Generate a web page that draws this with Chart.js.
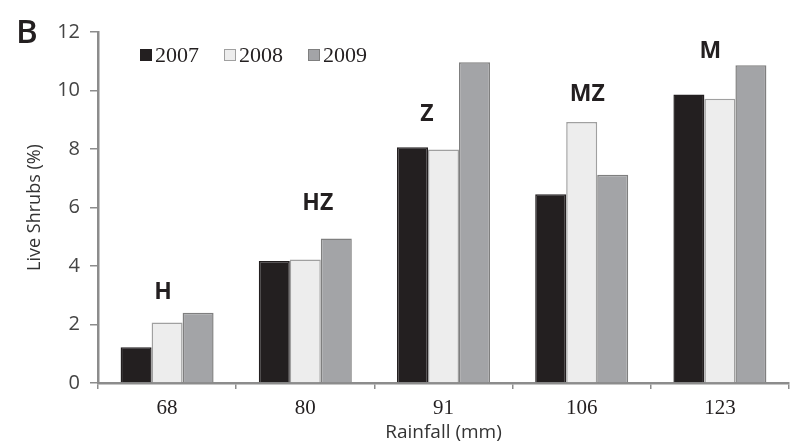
<!DOCTYPE html>
<html>
<head>
<meta charset="utf-8">
<script src="https://cdn.jsdelivr.net/npm/chart.js@4"></script>
<style>
  body { margin: 0; background: #fff; }
  #wrap { position: relative; width: 794px; height: 444px; }
  #panel { position: absolute; left: 16px; top: 8px; font: 600 33px "Open Sans", sans-serif; color: #231f20; }
</style>
</head>
<body>
<div id="wrap">
  <canvas id="chart" width="794" height="444"></canvas>
  <div id="panel">B</div>
</div>
<script>
const rainfall = ['68', '80', '91', '106', '123'];
const years = ['2007', '2008', '2009'];
const shrubs2007 = [1.22, 4.17, 8.06, 6.45, 9.86];
const shrubs2008 = [2.07, 4.22, 7.98, 8.92, 9.72];
const shrubs2009 = [2.40, 4.94, 10.97, 7.12, 10.86];
// group letters, placed in data units (category offset, % value)
const groupLabels = ['H', 'HZ', 'Z', 'MZ', 'M'];
const groupLabelShift = [-0.03, 0.09, -0.12, 0.04, -0.07];
const groupLabelY = [3.1, 6.15, 9.17, 9.85, 11.33];

const axisGray = '#8c8c8c';

const groupLabelPlugin = {
  id: 'groupLabels',
  afterDatasetsDraw(chart) {
    const ctx = chart.ctx;
    const x = chart.scales.x;
    const y = chart.scales.y;
    const step = x.getPixelForValue(1) - x.getPixelForValue(0);
    ctx.save();
    ctx.font = 'bold 23px "Open Sans", sans-serif';
    ctx.fillStyle = '#231f20';
    ctx.textAlign = 'center';
    ctx.textBaseline = 'middle';
    groupLabels.forEach((txt, i) => {
      ctx.fillText(txt, x.getPixelForValue(i) + groupLabelShift[i] * step, y.getPixelForValue(groupLabelY[i]));
    });
    ctx.restore();
  }
};

const legendPlugin = {
  id: 'insideLegend',
  afterDraw(chart) {
    const ctx = chart.ctx;
    const area = chart.chartArea;
    let lx = area.left + 42;
    const ly = area.top + 23;
    ctx.save();
    ctx.font = '22px "Liberation Serif", serif';
    ctx.textBaseline = 'middle';
    chart.data.datasets.forEach(ds => {
      ctx.fillStyle = ds.backgroundColor;
      ctx.fillRect(lx, ly - 6, 12, 12);
      ctx.strokeStyle = ds.borderColor;
      ctx.lineWidth = 1;
      ctx.strokeRect(lx + 0.5, ly - 5.5, 11, 11);
      ctx.fillStyle = '#231f20';
      ctx.fillText(ds.label, lx + 15, ly + 1);
      lx += 15 + ctx.measureText(ds.label).width + 25;
    });
    ctx.restore();
  }
};

new Chart(document.getElementById('chart'), {
  type: 'bar',
  data: {
    labels: rainfall,
    datasets: [
      { label: years[0], data: shrubs2007, backgroundColor: '#231f20', borderColor: '#231f20', borderWidth: 1.5 },
      { label: years[1], data: shrubs2008, backgroundColor: '#ededed', borderColor: '#a0a0a0', borderWidth: 1.5 },
      { label: years[2], data: shrubs2009, backgroundColor: '#a3a4a7', borderColor: '#7f7f7f', borderWidth: 1.5 }
    ]
  },
  options: {
    responsive: false,
    animation: false,
    devicePixelRatio: 1,
    layout: { padding: { top: 32, right: 5, left: 0, bottom: 0 } },
    datasets: {
      bar: { categoryPercentage: 0.673, barPercentage: 1.0 }
    },
    plugins: {
      legend: { display: false },
      tooltip: { enabled: false }
    },
    scales: {
      x: {
        offset: true,
        grid: {
          offset: true,
          drawOnChartArea: false,
          drawTicks: true,
          tickLength: 6,
          tickColor: axisGray,
          lineWidth: 1.5
        },
        border: { color: axisGray, width: 2.5 },
        ticks: {
          padding: 7,
          color: '#231f20',
          font: { family: '"Liberation Serif", serif', size: 21 }
        },
        title: {
          display: true,
          text: 'Rainfall (mm)',
          color: '#333',
          padding: { top: 0, bottom: 0 },
          font: { family: '"Open Sans", sans-serif', size: 19 }
        },
        afterFit(axis) { axis.height = 61; }
      },
      y: {
        min: 0,
        max: 12,
        ticks: {
          stepSize: 2,
          padding: 10,
          color: '#444',
          font: { family: '"Open Sans", sans-serif', size: 20 }
        },
        grid: {
          drawOnChartArea: false,
          drawTicks: true,
          tickLength: 8,
          tickColor: axisGray,
          lineWidth: 1.5
        },
        border: { color: axisGray, width: 2.5 },
        title: {
          display: true,
          text: 'Live Shrubs (%)',
          color: '#333',
          padding: { top: 24, bottom: 0 },
          font: { family: '"Open Sans", sans-serif', size: 18 }
        },
        afterFit(axis) { axis.width = 98; }
      }
    }
  },
  plugins: [groupLabelPlugin, legendPlugin]
});
</script>
</body>
</html>
